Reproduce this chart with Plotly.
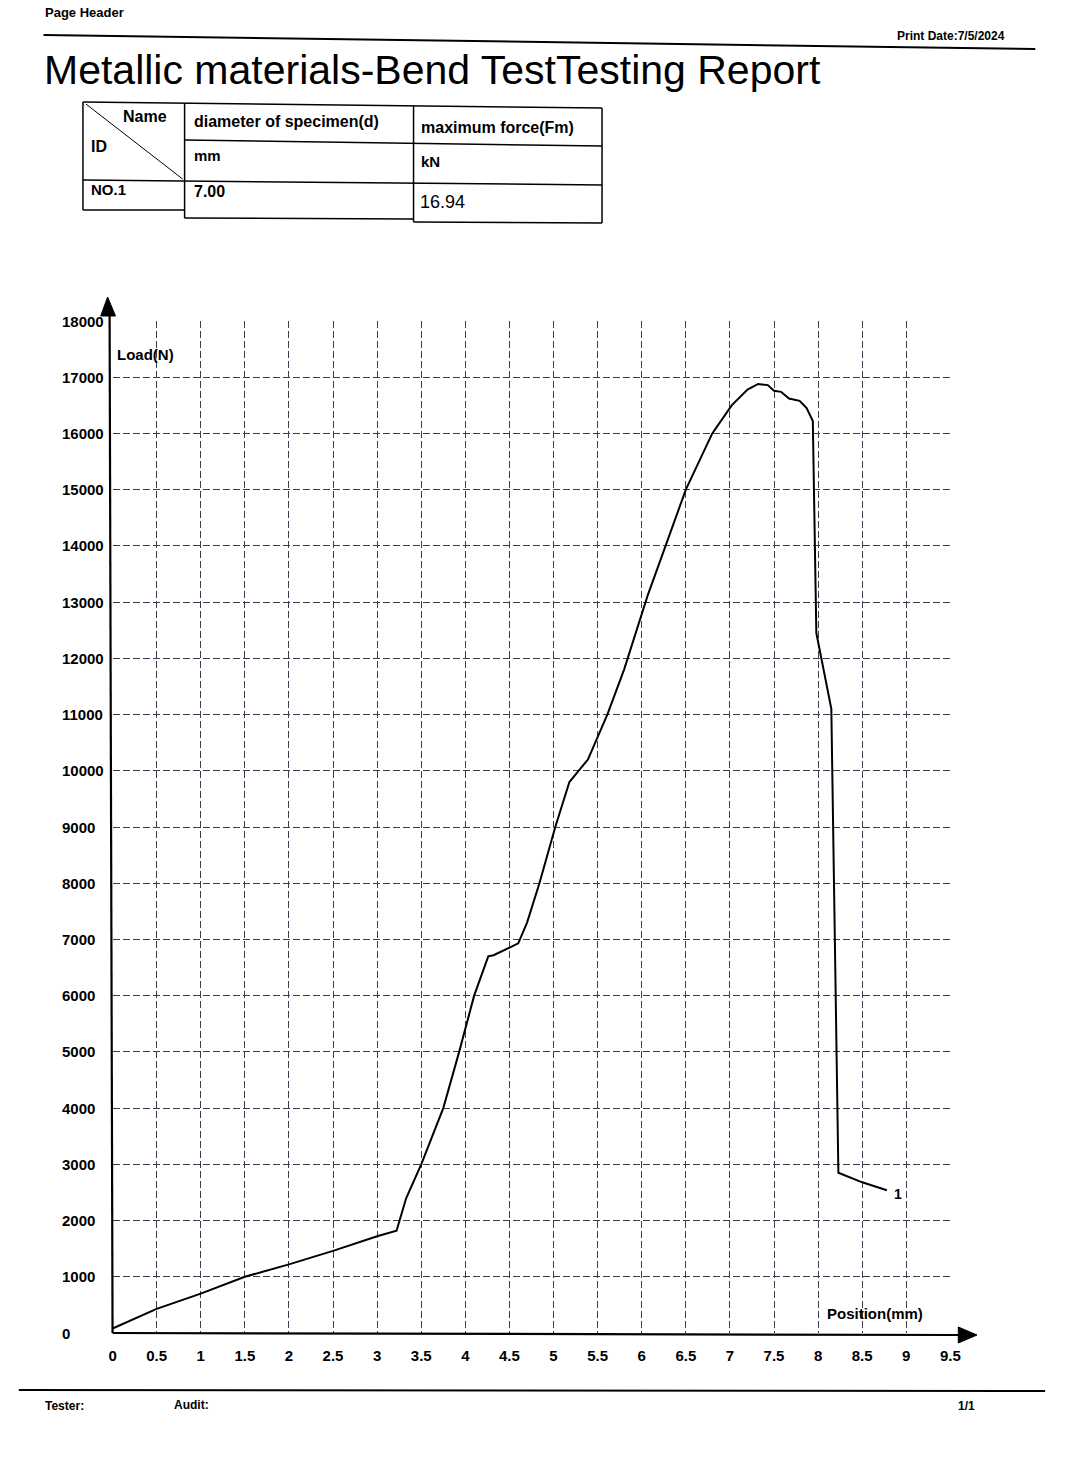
import plotly.graph_objects as go

W, H = 1065, 1484

# ---------------- data ----------------
position_mm = [0.0, 0.5, 1.0, 1.5, 2.0, 2.5, 3.0, 3.22, 3.33, 3.5, 3.75, 3.93, 4.1, 4.26,
               4.32, 4.6, 4.7, 4.84, 5.02, 5.18, 5.3, 5.39, 5.61, 5.8, 6.07, 6.3, 6.5,
               6.8, 7.02, 7.2, 7.32, 7.43, 7.5, 7.58, 7.67, 7.79, 7.87, 7.94, 7.96,
               7.98, 8.15, 8.19, 8.23, 8.5, 8.78]
load_n = [80, 430, 700, 1000, 1220, 1460, 1720, 1820, 2400, 3000, 4000, 5000, 6000, 6700,
          6720, 6930, 7300, 8000, 9000, 9800, 10030, 10200, 11000, 11800, 13130, 14150, 15000,
          16000, 16500, 16780, 16880, 16860, 16760, 16740, 16620, 16580, 16450, 16220, 14500,
          12450, 11100, 7000, 2850, 2680, 2540]
curve_label = "1"

x_ticks = [0, 0.5, 1, 1.5, 2, 2.5, 3, 3.5, 4, 4.5, 5, 5.5, 6, 6.5, 7, 7.5, 8, 8.5, 9, 9.5]
x_tick_labels = ["0", "0.5", "1", "1.5", "2", "2.5", "3", "3.5", "4", "4.5", "5", "5.5",
                 "6", "6.5", "7", "7.5", "8", "8.5", "9", "9.5"]
y_ticks = [0, 1000, 2000, 3000, 4000, 5000, 6000, 7000, 8000, 9000, 10000, 11000, 12000,
           13000, 14000, 15000, 16000, 17000, 18000]
y_tick_labels = [str(v) for v in y_ticks]

title_text = "Metallic materials-Bend TestTesting Report"
header_left = "Page Header"
print_date = "Print Date:7/5/2024"
table_corner = ["Name", "ID"]
table_header = ["diameter of specimen(d)", "maximum force(Fm)"]
table_units = ["mm", "kN"]
table_row = ["NO.1", "7.00", "16.94"]
footer = ["Tester:", "Audit:", "1/1"]
x_title = "Position(mm)"
y_title = "Load(N)"

# ---------------- layout helpers ----------------
def px(x):
    return x / W

def py(y):
    return 1 - y / H

X0, X1 = 110, 959      # pixel of x=0 and x=9.5
Y0, Y1 = 1333, 321     # pixel of y=0 and y=18000
FONT = "Liberation Sans"

fig = go.Figure()
fig.add_trace(go.Scatter(x=position_mm, y=load_n, mode="lines",
                         line=dict(color="black", width=2),
                         hoverinfo="skip", showlegend=False))

grid = dict(showgrid=True, gridcolor="#3c3c50", gridwidth=1, griddash="7px,3px",
            zeroline=False, showline=False, ticks="")

fig.update_layout(
    width=W, height=H, margin=dict(l=0, r=0, t=0, b=0),
    paper_bgcolor="white", plot_bgcolor="white", showlegend=False,
    xaxis=dict(domain=[px(X0), px(X1)], range=[0, 9.5], tickvals=x_ticks,
               ticktext=x_tick_labels, ticklabelstandoff=12,
               tickfont=dict(family=FONT, size=15, color="black", weight="bold"), **grid),
    yaxis=dict(domain=[py(Y0), py(Y1)], range=[0, 18000], tickvals=y_ticks,
               showticklabels=False, **grid),
)

ann = []
# y tick labels, left aligned like the print
for v, t in zip(y_ticks, y_tick_labels):
    ann.append(dict(x=px(57), xref="paper", y=v, yref="y", text=t, showarrow=False,
                    xanchor="left", yanchor="middle",
                    font=dict(family=FONT, size=15, color="black", weight="bold")))

ann.append(dict(x=position_mm[-1] + 0.06, xref="x", y=load_n[-1] - 60, yref="y",
                text=curve_label, showarrow=False, xanchor="left", yanchor="middle",
                font=dict(family=FONT, size=14, color="black", weight="bold")))

def txt(x, y, s, size=14, bold=False, anchor="left", family=FONT):
    ann.append(dict(x=px(x), y=py(y), xref="paper", yref="paper", text=s, showarrow=False,
                    xanchor=anchor, yanchor="middle",
                    font=dict(family=family, size=size, color="black",
                              weight="bold" if bold else "normal")))

txt(112, 354, y_title, 15, True)
txt(832, 1313, x_title, 15, True)
txt(40, 12, header_left, 13, True)
txt(903, 36, print_date, 12, True)
txt(38, 70, title_text, 41)

# table texts
txt(119, 117, table_corner[0], 16, True)
txt(86, 146, table_corner[1], 16, True)
txt(190, 121, table_header[0], 16, True)
txt(421, 127, table_header[1], 16, True)
txt(190, 155, table_units[0], 15, True)
txt(421, 162, table_units[1], 15, True)
txt(86, 189, table_row[0], 15, True)
txt(190, 191, table_row[1], 16, True)
txt(420, 202, table_row[2], 18)

# footer
txt(40, 1406, footer[0], 12, True)
txt(170, 1405, footer[1], 12, True)
txt(965, 1406, footer[2], 12, True)

fig.update_layout(annotations=ann)

shapes = []
def line(x0, y0, x1, y1, w=1.5, color="black"):
    shapes.append(dict(type="line", xref="paper", yref="paper", x0=px(x0), y0=py(y0),
                       x1=px(x1), y1=py(y1), line=dict(color=color, width=w)))

# header / footer rules
line(40, 35, 1045, 49, 2)
line(15, 1390, 1055, 1391, 2)

# table
line(80, 102, 606, 108)
line(183, 140, 606, 146)
line(80, 180, 606, 185)
line(80, 210, 183, 210)
line(183, 218, 415, 219)
line(415, 222, 606, 223)
line(80, 102, 80, 210)
line(183, 103, 183, 218)
line(415, 106, 415, 222)
line(606, 108, 606, 223)
line(83, 104, 181, 179, 1)

# axes with arrows
line(X0, Y0, X0 - 3, 314, 2.2)
line(X0, Y0, 970, Y0 + 2, 2.2)
shapes.append(dict(type="path", xref="paper", yref="paper",
                   path=f"M {px(98)} {py(316)} L {px(105)} {py(297)} L {px(113)} {py(316)} Z",
                   fillcolor="black", line=dict(color="black", width=1)))
shapes.append(dict(type="path", xref="paper", yref="paper",
                   path=f"M {px(967)} {py(1327)} L {px(986)} {py(1335)} L {px(967)} {py(1343)} Z",
                   fillcolor="black", line=dict(color="black", width=1)))

fig.update_layout(shapes=shapes)
fig.write_html("out.html", config={"displayModeBar": False},
               post_script="document.body.style.margin='0';document.body.style.overflow='hidden';")
